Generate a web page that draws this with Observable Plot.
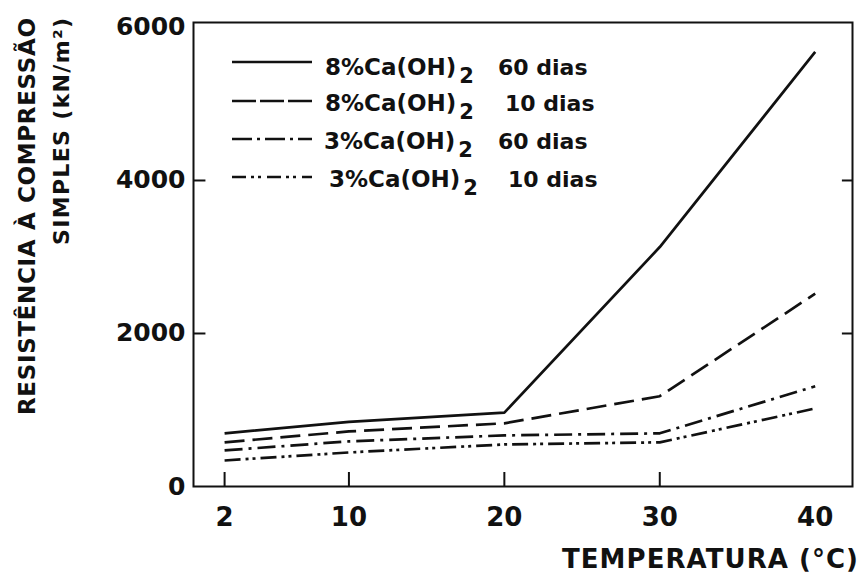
<!DOCTYPE html>
<html><head><meta charset="utf-8">
<script src="https://cdn.jsdelivr.net/npm/d3@7"></script>
<script src="https://cdn.jsdelivr.net/npm/@observablehq/plot@0.6"></script>
<style>
html,body{margin:0;padding:0;background:#fff;}
svg text{font-family:"DejaVu Sans",sans-serif;}
</style>
</head><body>
<div id="chart"></div>
<script>
const temperatures = [2, 10, 20, 30, 40];
const s8_60 = [695, 845, 965, 3130, 5680];
const s8_10 = [577, 720, 826, 1180, 2520];
const s3_60 = [472, 590, 668, 695, 1310];
const s3_10 = [340, 445, 550, 577, 1020];
const seriesNames = ["8%Ca(OH)₂ 60 dias", "8%Ca(OH)₂ 10 dias", "3%Ca(OH)₂ 60 dias", "3%Ca(OH)₂ 10 dias"];
const legendPct = ["8%Ca(OH)", "8%Ca(OH)", "3%Ca(OH)", "3%Ca(OH)"];
const legendSub = ["2", "2", "2", "2"];
const legendRight = ["60 dias", "10 dias", "60 dias", "10 dias"];
const xTicks = [2, 10, 20, 30, 40];
const yTicks = [0, 2000, 4000, 6000];
const yLabel1 = "RESISTÊNCIA À COMPRESSÃO";
const yLabel2 = "SIMPLES (kN/m²)";
const xLabel = "TEMPERATURA (°C)";

const dashes = [null, "20,8", "18,6,3,6", "16,5,3,4,3,5"];
const legendDashes = [null, "24,4", "20,5,3,5", "14,5,3,4,3,6"];
const allSeries = [s8_60, s8_10, s3_60, s3_10];
const rows = [];
allSeries.forEach((vals, si) => vals.forEach((v, i) => rows.push({series: seriesNames[si], si, t: temperatures[i], v})));

const W = 861, H = 578;
const fmt = d => String(d);
const plot = Plot.plot({
  width: W, height: H,
  marginLeft: 193, marginRight: 9, marginTop: 22, marginBottom: 92,
  x: {domain: [0, 42.4]},
  y: {domain: [0, 6065]},
  style: {fontFamily: "DejaVu Sans, sans-serif", color: "#111", background: "#fff"},
  marks: [
    Plot.frame({stroke: "#111", strokeWidth: 2}),
    Plot.axisX({ticks: xTicks, tickSize: 0, tickPadding: 21, tickFormat: fmt, label: null, fontSize: 26, fontWeight: "bold"}),
    Plot.axisY({ticks: yTicks, tickSize: 0, tickPadding: 8, tickFormat: fmt, label: null, fontSize: 25, fontWeight: "bold"}),
    Plot.ruleX(xTicks.slice(0, 4), {y1: 0, y2: 183, stroke: "#111", strokeWidth: 2}),
    Plot.ruleY([2000, 4000], {x1: 0, x2: 0.8, stroke: "#111", strokeWidth: 2}),
    Plot.ruleY([2000, 4000], {x1: 41.75, x2: 42.4, stroke: "#111", strokeWidth: 2}),
    ...allSeries.map((_, si) => Plot.line(rows.filter(r => r.si === si), {
      x: "t", y: "v", stroke: "#111", strokeWidth: 2.7,
      strokeDasharray: dashes[si] || undefined, strokeLinecap: "butt", strokeLinejoin: "miter"
    }))
  ]
});
document.getElementById("chart").appendChild(plot);

const svg = d3.select(plot);
// legend
const lg = svg.append("g").attr("fill", "#111").attr("font-weight", "bold").attr("text-anchor", "start");
const lineY = [62, 101, 139, 177];
const baseY = [75, 111, 149, 187];
const pctX = [325, 325, 324, 329];
const rightX = [498, 505, 498, 508];
legendPct.forEach((txt, i) => {
  lg.append("line").attr("x1", 232).attr("x2", 312).attr("y1", lineY[i]).attr("y2", lineY[i])
    .attr("stroke", "#111").attr("stroke-width", 2.7)
    .attr("stroke-dasharray", legendDashes[i] || null);
  const t = lg.append("text").attr("x", pctX[i]).attr("y", baseY[i]).attr("font-size", 23).text(txt);
  const w = t.node().getComputedTextLength();
  lg.append("text").attr("x", pctX[i] + w + 3).attr("y", baseY[i] + 8).attr("font-size", 21)
    .text(legendSub[i]);
  lg.append("text").attr("x", rightX[i]).attr("y", baseY[i]).attr("font-size", 22)
    .text(legendRight[i]);
});
// axis labels
const lab = svg.append("g").attr("fill", "#111").attr("font-weight", "bold");
lab.append("text").attr("transform", "translate(35,18) rotate(-90)").attr("text-anchor", "end")
  .attr("font-size", 23).attr("textLength", 397).attr("lengthAdjust", "spacing").text(yLabel1);
lab.append("text").attr("transform", "translate(69,18) rotate(-90)").attr("text-anchor", "end")
  .attr("font-size", 22).attr("textLength", 227).attr("lengthAdjust", "spacing").text(yLabel2);
lab.append("text").attr("x", 562).attr("y", 568).attr("text-anchor", "start")
  .attr("font-size", 26).attr("textLength", 296).attr("lengthAdjust", "spacing").text(xLabel);
</script>
</body></html>
